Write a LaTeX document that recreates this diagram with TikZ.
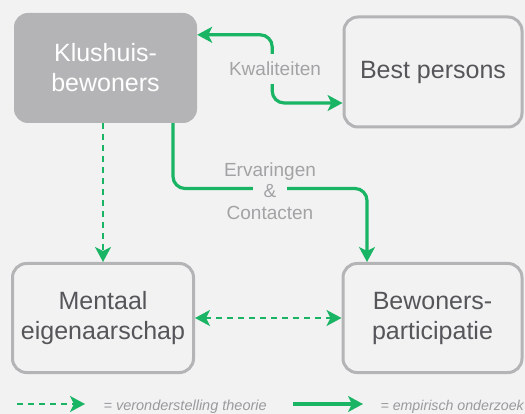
\documentclass[tikz,border=0pt]{standalone}
\usepackage{fontspec}
\setmainfont{Liberation Sans}
\usetikzlibrary{arrows.meta}

\definecolor{bg}{HTML}{F2F2F2}
\definecolor{grn}{HTML}{19B464}
\definecolor{boxgray}{HTML}{B4B4B6}
\definecolor{boxtext}{HTML}{55555A}
\definecolor{lblgray}{HTML}{A3A3A5}
\definecolor{legtext}{HTML}{9A9A9E}

\tikzset{
  tip/.tip={Stealth[length=15pt,width=16pt,inset=4pt]},
  box/.style={rounded corners=14pt, align=center, inner sep=0pt,
    font=\fontsize{25}{30}\selectfont},
  outlinebox/.style={box, draw=boxgray, line width=3pt, fill=bg, text=boxtext},
  filledbox/.style={box, fill=boxgray, text=white},
  emp/.style={draw=grn, line width=3.2pt, -tip},
  empboth/.style={emp, tip-tip},
  theo/.style={draw=grn, line width=2pt, dash pattern=on 6pt off 5pt, -tip},
  theoboth/.style={theo, tip-tip},
  lbl/.style={text=lblgray, font=\fontsize{19}{22}\selectfont},
  legend/.style={text=legtext, font=\fontsize{14.5}{17}\selectfont\itshape, anchor=base west}
}

\begin{document}
\begin{tikzpicture}[x=1pt, y=-1pt]
  % canvas
  \fill[bg] (0,0) rectangle (525,414);
  \useasboundingbox (0,0) rectangle (525,414);

  % boxes
  \node[filledbox, minimum width=183pt, minimum height=110pt] (kl) at (105.5,68) {Klushuis-\\bewoners};
  \node[outlinebox, minimum width=178pt, minimum height=110pt] (bp) at (433,72) {Best persons};
  \node[outlinebox, minimum width=181pt, minimum height=109pt] (me) at (103,318) {Mentaal\\eigenaarschap};
  \node[outlinebox, minimum width=179pt, minimum height=109pt] (bw) at (432.5,318) {Bewoners-\\participatie};

  % Kwaliteiten: two-way link between the top boxes
  \draw[empboth, rounded corners=12pt]
    ([yshift=-31pt]bp.west) -| ([xshift=75pt,yshift=-22pt]kl.north east)
    -- ([yshift=-22pt]kl.north east);
  \node[lbl, fill=bg, inner xsep=2pt, inner ysep=8pt] (kw) at (275,69) {Kwaliteiten};

  % Ervaringen & Contacten
  \draw[emp, rounded corners=12pt]
    ([xshift=67.5pt]kl.south) |- ([xshift=-65.5pt,yshift=73.5pt]bw.north)
    -- ([xshift=-65.5pt]bw.north);
  \node[lbl, fill=bg, inner xsep=11pt, inner ysep=3pt, anchor=base] (amp) at (270,198) {\&};
  \node[lbl, anchor=base] (erv) at (270,177) {Ervaringen};
  \node[lbl, anchor=base] (con) at (270,220) {Contacten};

  % assumed relations
  \draw[theo] (me.north |- kl.south) -- (me.north);
  \draw[theoboth] (me.east) -- (bw.west);

  % legend
  \coordinate (l1a) at (17,404);
  \coordinate (l1b) at (85,404);
  \coordinate (l2a) at (293,404);
  \coordinate (l2b) at (363,404);
  \draw[theo] (l1a) -- (l1b);
  \node[legend] (t1) at (100,410) {= veronderstelling theorie};
  \draw[emp] (l2a) -- (l2b);
  \node[legend, font=\fontsize{14.2}{17}\selectfont\itshape] (t2) at (377,410) {= empirisch onderzoek};
\end{tikzpicture}
\end{document}
